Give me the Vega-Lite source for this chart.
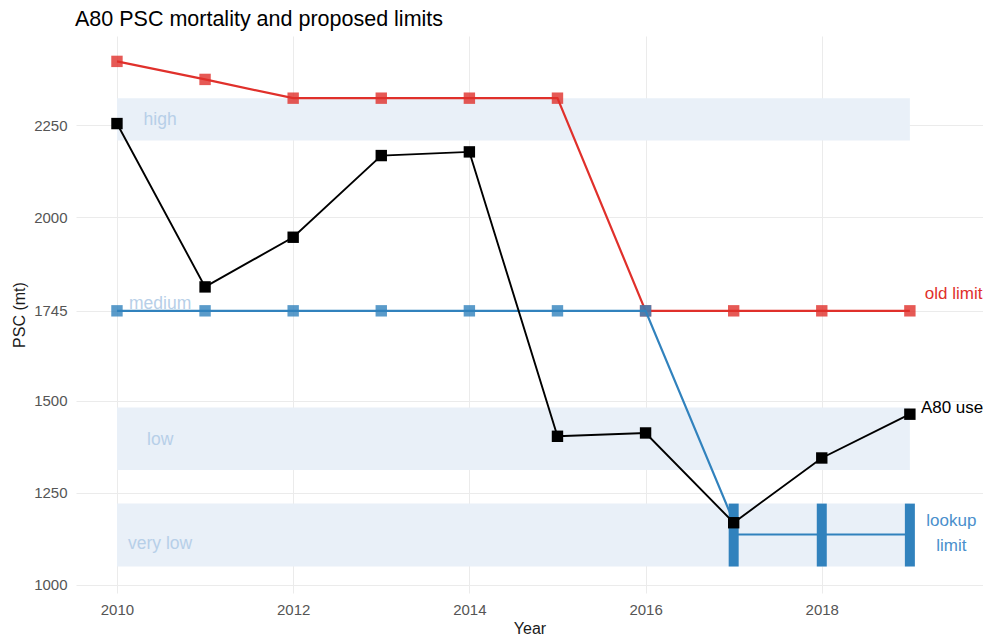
{
  "$schema": "https://vega.github.io/schema/vega-lite/v6.json",
  "autosize": {"type": "none"},
  "padding": {"left": 76, "top": 36, "right": 0, "bottom": 47},
  "width": 907,
  "height": 557,
  "background": "white",
  "config": {
    "font": "Liberation Sans",
    "view": {"stroke": null},
    "axis": {
      "grid": true,
      "gridColor": "#ebebeb",
      "gridWidth": 1,
      "domain": false,
      "ticks": false,
      "labelColor": "#555555",
      "labelFontSize": 15,
      "titleColor": "#1a1a1a",
      "titleFontWeight": "normal",
      "titleFontSize": 16
    }
  },
  "title": {
    "text": "A80 PSC mortality and proposed limits",
    "anchor": "start",
    "frame": "group",
    "dx": -1,
    "offset": 6,
    "fontSize": 21.5,
    "fontWeight": "normal",
    "color": "#000000"
  },
  "datasets": {
    "bands": [
      {"band": "high", "year_from": 2010, "year_to": 2019, "lo": 2208, "hi": 2323},
      {"band": "low", "year_from": 2010, "year_to": 2019, "lo": 1312, "hi": 1482},
      {"band": "very low", "year_from": 2010, "year_to": 2019, "lo": 1050, "hi": 1221}
    ],
    "bandLabels": [
      {"label": "high", "year": 2010.49, "psc": 2263},
      {"label": "medium", "year": 2010.49, "psc": 1763},
      {"label": "low", "year": 2010.49, "psc": 1393},
      {"label": "very low", "year": 2010.49, "psc": 1110}
    ],
    "series": [
      {"series": "old", "year": 2010, "psc": 2423},
      {"series": "old", "year": 2011, "psc": 2374},
      {"series": "old", "year": 2012, "psc": 2323},
      {"series": "old", "year": 2013, "psc": 2323},
      {"series": "old", "year": 2014, "psc": 2323},
      {"series": "old", "year": 2015, "psc": 2323},
      {"series": "old", "year": 2016, "psc": 1745},
      {"series": "old", "year": 2017, "psc": 1745},
      {"series": "old", "year": 2018, "psc": 1745},
      {"series": "old", "year": 2019, "psc": 1745},
      {"series": "lookup", "year": 2010, "psc": 1745},
      {"series": "lookup", "year": 2011, "psc": 1745},
      {"series": "lookup", "year": 2012, "psc": 1745},
      {"series": "lookup", "year": 2013, "psc": 1745},
      {"series": "lookup", "year": 2014, "psc": 1745},
      {"series": "lookup", "year": 2015, "psc": 1745},
      {"series": "lookup", "year": 2016, "psc": 1745},
      {"series": "lookup", "year": 2017, "psc": 1172},
      {"series": "used", "year": 2010, "psc": 2254},
      {"series": "used", "year": 2011, "psc": 1810},
      {"series": "used", "year": 2012, "psc": 1945},
      {"series": "used", "year": 2013, "psc": 2167},
      {"series": "used", "year": 2014, "psc": 2177},
      {"series": "used", "year": 2015, "psc": 1404},
      {"series": "used", "year": 2016, "psc": 1413},
      {"series": "used", "year": 2017, "psc": 1169},
      {"series": "used", "year": 2018, "psc": 1345},
      {"series": "used", "year": 2019, "psc": 1464}
    ],
    "lookupRange": [
      {"year": 2017, "lo": 1050, "hi": 1221, "mid": 1137},
      {"year": 2018, "lo": 1050, "hi": 1221, "mid": 1137},
      {"year": 2019, "lo": 1050, "hi": 1221, "mid": 1137}
    ],
    "endLabels": [
      {"label": "old limit", "series": "old", "year": 2019.17, "psc": 1790},
      {"label": "A80 used", "series": "used", "year": 2019.125, "psc": 1481}
    ],
    "lookupLabel": [
      {"label": "lookup", "year": 2019.47, "psc": 1174},
      {"label": "limit", "year": 2019.47, "psc": 1106}
    ]
  },
  "encoding": {
    "x": {
      "field": "year",
      "type": "quantitative",
      "scale": {"domain": [2009.535, 2019.83], "nice": false, "zero": false},
      "axis": {
        "title": "Year",
        "values": [2010, 2012, 2014, 2016, 2018],
        "format": "d",
        "labelPadding": 9,
        "titlePadding": 3
      }
    },
    "y": {
      "field": "psc",
      "type": "quantitative",
      "scale": {"domain": [978, 2492], "nice": false, "zero": false},
      "axis": {
        "title": "PSC (mt)",
        "values": [1000, 1250, 1500, 1745, 2000, 2250],
        "format": "d",
        "labelPadding": 9,
        "titlePadding": 6
      }
    }
  },
  "layer": [
    {
      "data": {"name": "bands"},
      "mark": {"type": "rect", "fill": "#e9f0f8"},
      "encoding": {
        "x": {"field": "year_from", "type": "quantitative"},
        "x2": {"field": "year_to"},
        "y": {"field": "lo", "type": "quantitative"},
        "y2": {"field": "hi"}
      }
    },
    {
      "data": {"name": "bandLabels"},
      "mark": {"type": "text", "color": "#b7cfe8", "fontSize": 17.5, "align": "center", "baseline": "middle"},
      "encoding": {"text": {"field": "label"}}
    },
    {
      "data": {"name": "lookupRange"},
      "mark": {"type": "rule", "color": "#3182bd", "strokeWidth": 2},
      "encoding": {
        "x": {"aggregate": "min", "field": "year", "type": "quantitative"},
        "x2": {"aggregate": "max", "field": "year"},
        "y": {"aggregate": "mean", "field": "mid", "type": "quantitative"}
      }
    },
    {
      "data": {"name": "lookupRange"},
      "mark": {"type": "rule", "color": "#3182bd", "strokeWidth": 10, "strokeCap": "butt"},
      "encoding": {
        "y": {"field": "lo", "type": "quantitative"},
        "y2": {"field": "hi"}
      }
    },
    {
      "data": {"name": "series"},
      "transform": [{"filter": "datum.series == 'old'"}],
      "mark": {"type": "line", "color": "#e0302b", "strokeWidth": 2.2}
    },
    {
      "data": {"name": "series"},
      "transform": [{"filter": "datum.series == 'old'"}],
      "mark": {"type": "point", "shape": "square", "filled": true, "size": 130, "color": "#e0302b", "opacity": 0.8}
    },
    {
      "data": {"name": "series"},
      "transform": [{"filter": "datum.series == 'lookup'"}],
      "mark": {"type": "line", "color": "#3182bd", "strokeWidth": 2.2}
    },
    {
      "data": {"name": "series"},
      "transform": [{"filter": "datum.series == 'lookup' && datum.year <= 2016"}],
      "mark": {"type": "point", "shape": "square", "filled": true, "size": 130, "color": "#3182bd", "opacity": 0.8}
    },
    {
      "data": {"name": "series"},
      "transform": [{"filter": "datum.series == 'used'"}],
      "mark": {"type": "line", "color": "#000000", "strokeWidth": 1.9}
    },
    {
      "data": {"name": "series"},
      "transform": [{"filter": "datum.series == 'used'"}],
      "mark": {"type": "point", "shape": "square", "filled": true, "size": 130, "color": "#000000", "opacity": 1}
    },
    {
      "data": {"name": "endLabels"},
      "mark": {"type": "text", "fontSize": 17, "align": "left", "baseline": "middle"},
      "encoding": {
        "text": {"field": "label"},
        "color": {
          "field": "series",
          "type": "nominal",
          "scale": {"domain": ["old", "used"], "range": ["#e0302b", "#000000"]},
          "legend": null
        }
      }
    },
    {
      "data": {"name": "lookupLabel"},
      "mark": {"type": "text", "fontSize": 17, "align": "center", "baseline": "middle", "color": "#4a8fcc"},
      "encoding": {"text": {"field": "label"}}
    }
  ]
}
